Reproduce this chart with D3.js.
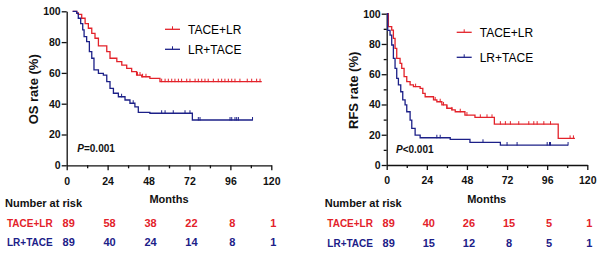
<!DOCTYPE html>
<html>
<head>
<meta charset="UTF-8">
<title>KM</title>
<script src="https://cdn.jsdelivr.net/npm/d3@7"></script>
<style>
body{margin:0;background:#fff;}
svg text{font-family:"Liberation Sans",Arial,sans-serif;fill:#111;}
.axis path,.axis line{stroke:#111;stroke-width:1.3;}
</style>
</head>
<body>
<div id="chart"></div>
<script>
// months shown on x axis and in the risk table
var monthTicks = [0, 24, 48, 72, 96, 120];
var groups = ["TACE+LR", "LR+TACE"];
var colors = ["#e3222a", "#1c2088"];

// OS, TACE+LR
var osTaceTime = [3.5, 5.9, 6.8, 8.8, 10.8, 12.7, 14.7, 16.6, 18.6, 23.5, 25.4, 29.4, 32.3, 35.2, 38.1, 41, 44, 48.8, 54.7, 114.4];
var osTaceSurv = [100, 99, 98, 95.5, 92, 89, 85.7, 82.5, 77.5, 73.8, 69.5, 67.3, 65, 63, 60.8, 58.6, 57.5, 56.5, 54.3, 54.3];
var osTaceCens = [41.5, 43, 44.5, 46.5, 55.7, 57.7, 59.6, 61.6, 63.5, 65.5, 67.4, 70.4, 72.3, 75.3, 77.2, 79.2, 81.1, 83, 86, 88.9, 90.9, 92.8, 94.8, 96.8, 98.7, 101.6, 105.9, 108.5, 111.4, 113.4];
// OS, LR+TACE
var osLrTime = [3.5, 5.9, 6.8, 8.2, 9.4, 10.2, 11.7, 13.3, 14.7, 16, 18.6, 21.5, 23.5, 25.4, 27.4, 30.3, 34.2, 37.1, 40, 42, 48.8, 73.7, 109];
var osLrSurv = [100, 98.7, 95.5, 92, 87.9, 83.5, 80.3, 73.8, 69.5, 61.9, 59.7, 58.6, 54.3, 50, 46.8, 44.5, 42.4, 40.3, 38, 34.4, 33.8, 29.4, 29.4];
var osLrCens = [32.2, 39, 55.7, 57.7, 62.5, 69.4, 72.3, 77.2, 78.2, 95.8, 96.8, 98.7, 99.7, 100.7, 109];

// RFS, TACE+LR
var rfsTaceTime = [0, 1, 3, 4, 5, 6, 8, 9, 10.4, 12, 14, 16, 20, 21.6, 23, 28, 30, 33, 36, 39, 41, 46.8, 52.8, 64.4, 102.6, 112.6];
var rfsTaceSurv = [100, 91.4, 89.2, 83.7, 77.1, 70.5, 67.2, 63.9, 58.4, 55.1, 52.9, 51.8, 50.7, 47.4, 45.1, 43, 41.8, 39.7, 37.5, 36.4, 35.2, 33, 31.5, 27, 17.6, 17.6];
var rfsTaceCens = [17.3, 29, 32, 34, 36, 39, 44, 48, 56, 60, 63, 68, 71, 74, 79, 85, 88, 90, 94, 98, 109.7, 111.7];
// RFS, LR+TACE
var rfsLrTime = [0, 0.6, 2, 3, 4, 5, 6, 7, 8.4, 9.6, 11, 12, 14, 15, 17, 20, 38, 49.8, 68, 108.5];
var rfsLrSurv = [100, 89, 85.9, 79.3, 70.5, 63.9, 57.3, 52.9, 48.4, 43, 39.7, 35.2, 29.7, 24.2, 19.8, 18, 17, 15, 13.2, 13.2];
var rfsLrCens = [30, 32, 57.6, 72, 78, 96, 97.4, 98, 108.5];

// number at risk
var osRisk = [[89, 58, 38, 22, 8, 1], [89, 40, 24, 14, 8, 1]];
var rfsRisk = [[89, 40, 26, 15, 5, 1], [89, 15, 12, 8, 5, 1]];

var width = 600, height = 254;
var svg = d3.select("#chart").append("svg")
    .attr("width", width).attr("height", height);

function survAt(times, survs, t) {
    var v = survs[0];
    for (var i = 0; i < times.length; i++) { if (times[i] <= t) v = survs[i]; }
    return v;
}

function panel(cfg) {
    var x = d3.scaleLinear().domain([0, 120]).range([cfg.x0, cfg.x1]);
    var y = d3.scaleLinear().domain([0, 100]).range([cfg.yb, cfg.yt]);

    // minor ticks
    svg.append("g").attr("class", "axis")
        .attr("transform", "translate(0," + cfg.yb + ")")
        .call(d3.axisBottom(x).tickValues([12, 36, 60, 84, 108]).tickSize(3).tickFormat(""))
        .select(".domain").remove();
    if (cfg.minorY) {
        svg.append("g").attr("class", "axis")
            .attr("transform", "translate(" + cfg.x0 + ",0)")
            .call(d3.axisLeft(y).tickValues([10, 30, 50, 70, 90]).tickSize(3).tickFormat(""))
            .select(".domain").remove();
    }
    var xa = svg.append("g").attr("class", "axis")
        .attr("transform", "translate(0," + cfg.yb + ")")
        .call(d3.axisBottom(x).tickValues(monthTicks).tickSize(5).tickSizeOuter(0).tickPadding(7));
    xa.selectAll("text").attr("font-size", "10.5px").attr("font-weight", "bold");
    var ya = svg.append("g").attr("class", "axis")
        .attr("transform", "translate(" + cfg.x0 + ",0)")
        .call(d3.axisLeft(y).tickValues([0, 20, 40, 60, 80, 100]).tickSize(5).tickSizeOuter(0).tickPadding(1));
    ya.selectAll("text").attr("font-size", "10.5px").attr("font-weight", "bold");

    svg.append("text")
        .attr("transform", "translate(" + cfg.titleX + "," + ((cfg.yt + cfg.yb) / 2 + 1) + ") rotate(-90)")
        .attr("text-anchor", "middle")
        .attr("font-size", "13px").attr("font-weight", "bold")
        .text(cfg.title);

    var line = d3.line().curve(d3.curveStepAfter)
        .x(function(d) { return x(d[0]); })
        .y(function(d) { return y(d[1]); });

    cfg.series.forEach(function(s, i) {
        var pts = s.time.map(function(t, k) { return [t, s.surv[k]]; });
        svg.append("path").datum(pts)
            .attr("d", line)
            .attr("fill", "none")
            .attr("stroke", colors[i])
            .attr("stroke-width", 1.3);
        svg.selectAll(null).data(s.cens).enter().append("line")
            .attr("x1", function(d) { return x(d); })
            .attr("x2", function(d) { return x(d); })
            .attr("y1", function(d) { return y(survAt(s.time, s.surv, d)) - 3; })
            .attr("y2", function(d) { return y(survAt(s.time, s.surv, d)) + 0.5; })
            .attr("stroke", colors[i])
            .attr("stroke-width", 1);

        // legend
        var ly = cfg.legY + i * cfg.legGap;
        svg.append("line")
            .attr("x1", cfg.legX).attr("x2", cfg.legX + 15)
            .attr("y1", ly).attr("y2", ly)
            .attr("stroke", colors[i]).attr("stroke-width", 1.3);
        svg.append("line")
            .attr("x1", cfg.legX + 7.5).attr("x2", cfg.legX + 7.5)
            .attr("y1", ly - 3).attr("y2", ly)
            .attr("stroke", colors[i]).attr("stroke-width", 1);
        svg.append("text")
            .attr("x", cfg.legX + 23).attr("y", ly + 4.4)
            .attr("font-size", "12px")
            .style("fill", "#000")
            .text(groups[i]);

        // risk table row
        var ry = cfg.riskY + i * cfg.riskGap;
        svg.append("text")
            .attr("x", cfg.riskLabelX).attr("y", ry)
            .attr("font-size", "10px").attr("font-weight", "bold")
            .style("fill", colors[i])
            .text(groups[i]);
        svg.selectAll(null).data(cfg.risk[i]).enter().append("text")
            .attr("x", function(d, k) { return x(monthTicks[k]) + 2; })
            .attr("y", ry)
            .attr("text-anchor", "middle")
            .attr("font-size", "11px").attr("font-weight", "bold")
            .style("fill", colors[i])
            .text(function(d) { return d; });
    });

    var p = svg.append("text")
        .attr("x", cfg.pX).attr("y", cfg.pY)
        .attr("font-size", "10px").attr("font-weight", "bold");
    p.append("tspan").attr("font-style", "italic").text("P");
    p.append("tspan").text(cfg.pText);

    svg.append("text")
        .attr("x", cfg.monthsX).attr("y", 203.3)
        .attr("text-anchor", "middle")
        .attr("font-size", "11px").attr("font-weight", "bold")
        .text("Months");
    svg.append("text")
        .attr("x", cfg.nrX).attr("y", 206.5)
        .attr("font-size", "11px").attr("font-weight", "bold")
        .text("Number at risk");
}

panel({
    x0: 66.7, x1: 271.3, yt: 11.3, yb: 165.3, minorY: false,
    title: "OS rate (%)", titleX: 37.7,
    series: [
        {time: osTaceTime, surv: osTaceSurv, cens: osTaceCens},
        {time: osLrTime, surv: osLrSurv, cens: osLrCens}
    ],
    legX: 165, legY: 29.3, legGap: 20,
    risk: osRisk, riskY: 227, riskGap: 19.3, riskLabelX: 7,
    pX: 77.3, pY: 151.5, pText: "=0.001",
    monthsX: 169, nrX: 5
});

panel({
    x0: 386.7, x1: 587.3, yt: 13.7, yb: 165, minorY: true,
    title: "RFS rate (%)", titleX: 357.7,
    series: [
        {time: rfsTaceTime, surv: rfsTaceSurv, cens: rfsTaceCens},
        {time: rfsLrTime, surv: rfsLrSurv, cens: rfsLrCens}
    ],
    legX: 456.7, legY: 32.3, legGap: 25,
    risk: rfsRisk, riskY: 227, riskGap: 20, riskLabelX: 327.3,
    pX: 396, pY: 152.8, pText: "<0.001",
    monthsX: 486.7, nrX: 324.7
});
</script>
</body>
</html>
